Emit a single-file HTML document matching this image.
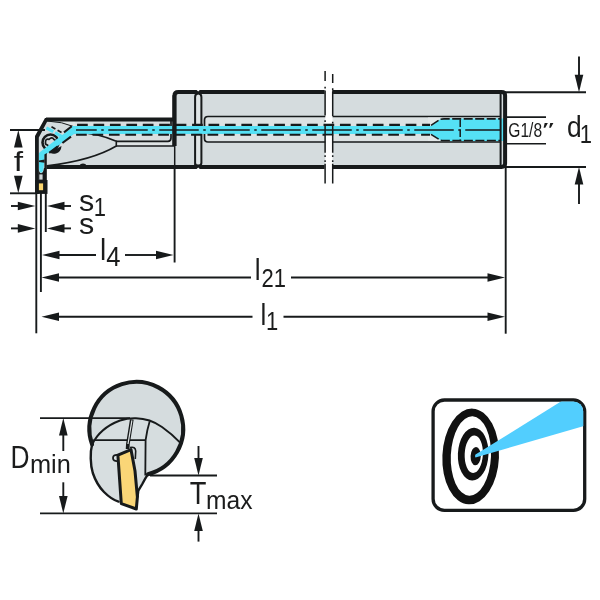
<!DOCTYPE html>
<html><head><meta charset="utf-8"><title>drawing</title>
<style>
html,body{margin:0;padding:0;background:#fff}
svg{display:block;will-change:transform}
text{font-family:"Liberation Sans",sans-serif;fill:#1b1c1c}
</style></head>
<body>
<svg width="600" height="600" viewBox="0 0 600 600">
<path d="M174 167 L174 96 Q174 92 178 92 L502 92 L505 95 L505 164 L502 167 Z" fill="#d5dcde"/>
<path d="M501 116.5 L208 116.5 Q204.5 116.5 204.5 120 L204.5 138.5 Q204.5 142 208 142 L501 142" fill="#dce2e3" stroke="#171a1b" stroke-width="1.7"/>
<rect x="195.5" y="94" width="5.6" height="72" fill="#dfe5e6"/>
<path d="M195.1 165 L195.1 97 Q195.1 93.5 198.2 93.5 Q201.4 93.5 201.4 97 L201.4 163 Q201.4 165.6 198.2 165.6 Q195.1 165.6 195.1 163" fill="none" stroke="#171a1b" stroke-width="2"/>
<path d="M174 119.4 L46.5 119.4 L36 137 L36 193 L47 193 L47 167 L174 167 Z" fill="#d5dcde"/>
<path d="M74 119 L174 119 L174 141.3 L116 141.3 Q98 133.5 76 132.5 Z" fill="#d8dee0"/>
<path d="M116 141.3 L174 141.3 L174 146 L116 146 Z" fill="#dfe4e5"/>
<path d="M47 120 Q62 121 75 127 L75 120 Z" fill="#dfe4e5"/>
<path d="M116 141.3 L168 141.3 Q171 141.3 171 138 L171 120" fill="none" stroke="#171a1b" stroke-width="1.7"/>
<path d="M116 146 L174 146" fill="none" stroke="#171a1b" stroke-width="1.7"/>
<path d="M76 132.3 Q99 133.5 116.3 141.3 L116.3 146 Q92 160.5 47 165.8" fill="none" stroke="#171a1b" stroke-width="1.6" stroke-linejoin="round"/>
<path d="M47 121 Q62 121.5 75 127" fill="none" stroke="#171a1b" stroke-width="1"/>
<ellipse cx="83" cy="165.3" rx="3" ry="1.7" fill="#171a1b"/>
<circle cx="50.5" cy="142.5" r="8" fill="#d5dcde" stroke="#171a1b" stroke-width="2.6"/>
<path d="M45.5 142.5 Q45.3 138.5 49 139.3 Q52 136.5 54 139.5 Q57 140.5 55 143.5 Q55.5 147 51.5 146 Q48.5 148.5 47.5 145 Q45 144.5 45.5 142.5 Z" fill="none" stroke="#171a1b" stroke-width="1.7"/>
<path d="M50 152.3 L61.5 146 Q61 152 56 153.5 Q52 154.5 50 152.3 Z" fill="#171a1b"/>
<path d="M501 129.9 L72 129.9" fill="none" stroke="#55e1f5" stroke-width="8"/>
<path d="M76 125.9 L74 125.9 L40 152 L38.8 153.5 L39 168 Q39.5 172.8 41.2 172.8 Q43.3 172.8 43.8 166 L44.6 155.8 L46 154.6 L74 133.9 L76 133.9 Z" fill="#55e1f5"/>
<path d="M62 136.6 L46 127.6" fill="none" stroke="#55e1f5" stroke-width="3.2" stroke-dasharray="8 2"/>
<path d="M428 117.4 L442 117.4 L432 125.5 L428 125.5 Z M428 141 L442 141 L432 134.3 L428 134.3 Z" fill="#e2e7e8"/>
<path d="M431 125.9 L440 119.6 Q441.5 118.5 444 118.5 L504 118.5 L504 140.9 L444 140.9 Q441.5 140.9 440 139.8 L431 133.9 Z" fill="#55e1f5"/>
<path d="M430 124.9 L73.5 124.9 L64 132.3" fill="none" stroke="#171a1b" stroke-width="2.1" stroke-dasharray="10.7 5.73" stroke-dashoffset="2.8"/>
<path d="M430 134.7 L73.5 134.7 L46.5 154.9" fill="none" stroke="#171a1b" stroke-width="2.1" stroke-dasharray="10.7 5.73" stroke-dashoffset="1.8"/>
<path d="M51.5 126.8 L63 133.3" fill="none" stroke="#171a1b" stroke-width="1.7" stroke-dasharray="4.5 2.5"/>
<path d="M44.4 154.5 L46.8 153 L46.8 181 L44.4 181 Z" fill="#171a1b"/>
<path d="M44.6 159.6 L39 160.6 L39 162 L44.6 162.8 Z" fill="#171a1b"/>
<path d="M431 125.3 L440 119.4 Q441.5 118.9 444 118.9 L501 118.9" fill="none" stroke="#171a1b" stroke-width="1.6" stroke-dasharray="9 2.5"/>
<path d="M431 134.4 L440 140 Q441.5 140.5 444 140.5 L501 140.5" fill="none" stroke="#171a1b" stroke-width="1.6" stroke-dasharray="9 2.5"/>
<path d="M460.2 119.5 L460.2 140" fill="none" stroke="#171a1b" stroke-width="1.5" stroke-dasharray="7.5 2.5"/>
<path d="M500 129.9 L76 129.9" fill="none" stroke="#171a1b" stroke-width="1.5" stroke-dasharray="39.5 4.5 2.5 4.5" stroke-dashoffset="4.75"/>
<rect x="325.3" y="86" width="7.2" height="37.2" fill="#fff"/>
<rect x="325.3" y="135.6" width="7.2" height="36" fill="#fff"/>
<path d="M325.1 71.0 L325.1 81.0 M325.1 86.8 L325.1 88.5 M325.1 90.5 L325.1 115.5 M325.1 120.3 L325.1 122.0 M325.1 124.0 L325.1 152.7 M325.1 155.3 L325.1 157.0 M325.1 160.3 L325.1 162.0 M325.1 163.8 L325.1 183.5" fill="none" stroke="#171a1b" stroke-width="1.5"/>
<path d="M332.7 74.0 L332.7 83.0 M332.7 88.3 L332.7 90.0 M332.7 91.5 L332.7 116.0 M332.7 121.8 L332.7 123.5 M332.7 124.5 L332.7 152.7 M332.7 155.3 L332.7 157.0 M332.7 160.3 L332.7 162.0 M332.7 163.8 L332.7 183.5" fill="none" stroke="#171a1b" stroke-width="1.5"/>
<path d="M46.5 166.9 L324.6 166.9 M332.2 166.9 L502 166.9" fill="none" stroke="#171a1b" stroke-width="4"/>
<path d="M174.4 96 Q174.4 92.1 178.4 92.1 L324.6 92.1 M332.2 92.1 L501.5 92.1 Q505.1 92.1 505.1 95.5 L505.1 163.5 Q505.1 166.9 501.5 166.9" fill="none" stroke="#171a1b" stroke-width="4"/>
<path d="M174.4 146 L174.4 95.5" fill="none" stroke="#171a1b" stroke-width="4.4"/>
<line x1="500.6" y1="93.0" x2="500.6" y2="166.0" stroke="#171a1b" stroke-width="2.00" />
<line x1="174.7" y1="140.0" x2="174.7" y2="167.0" stroke="#171a1b" stroke-width="1.50" />
<path d="M175 119.6 L46 119.6" fill="none" stroke="#171a1b" stroke-width="4"/>
<path d="M47.5 118 L45 118 L35 136 L35.1 193.9 L38.8 193.9 L38.8 137.5 L47.5 121 Z" fill="#171a1b"/>
<path d="M35.1 180 L35.1 193.9 L47.5 193.9 L47.5 180 Z" fill="#171a1b"/>
<rect x="38.9" y="183.4" width="4.2" height="6.8" fill="#fad56e"/>
<rect x="39.3" y="174.4" width="3.3" height="5.2" fill="#cfd6d8"/>
<path d="M38.5 169 Q39.3 173.2 41.2 173.2 Q43.3 173.2 44 168 L45 168 L45 181 L38.5 181 Z" fill="#171a1b"/>
<rect x="39.3" y="174.4" width="3.3" height="5.2" fill="#cfd6d8"/>
<path d="M196.6 89.9 L199.8 89.9 L198.2 91.6 Z M196.6 169.1 L199.8 169.1 L198.2 167.4 Z" fill="#fff"/>
<line x1="505.0" y1="92.2" x2="586.0" y2="92.2" stroke="#171a1b" stroke-width="1.90" />
<line x1="505.0" y1="167.0" x2="586.0" y2="167.0" stroke="#171a1b" stroke-width="1.90" />
<line x1="505.0" y1="117.1" x2="546.0" y2="117.1" stroke="#171a1b" stroke-width="1.60" />
<line x1="505.0" y1="143.8" x2="546.0" y2="143.8" stroke="#171a1b" stroke-width="1.60" />
<line x1="579.0" y1="56.5" x2="579.0" y2="80.0" stroke="#171a1b" stroke-width="1.90" />
<polygon points="579.0,92.2 574.7,74.7 583.3,74.7" fill="#171a1b"/>
<line x1="579.0" y1="180.0" x2="579.0" y2="204.0" stroke="#171a1b" stroke-width="1.90" />
<polygon points="579.0,167.0 574.7,184.5 583.3,184.5" fill="#171a1b"/>
<text transform="translate(567.0 137.0) scale(0.880 1)" font-size="30.0" text-anchor="start" >d</text>
<text transform="translate(579.8 142.8) scale(0.880 1)" font-size="25.0" text-anchor="start" >1</text>
<text transform="translate(508.3 137.2) scale(0.780 1)" font-size="20.0" text-anchor="start" >G1/8</text>
<text transform="translate(542.3 136.3) scale(1.750 1)" font-size="19.0" text-anchor="start" >″</text>
<line x1="10.0" y1="130.0" x2="45.0" y2="130.0" stroke="#171a1b" stroke-width="1.90" />
<line x1="10.0" y1="193.3" x2="36.0" y2="193.3" stroke="#171a1b" stroke-width="1.90" />
<polygon points="18.3,130.0 14.0,147.5 22.6,147.5" fill="#171a1b"/>
<polygon points="18.3,193.3 14.0,175.8 22.6,175.8" fill="#171a1b"/>
<text transform="translate(18.5 171.0) scale(1.200 1)" font-size="28.0" text-anchor="middle" >f</text>
<line x1="36.3" y1="193.0" x2="36.3" y2="333.3" stroke="#171a1b" stroke-width="1.90" />
<line x1="40.9" y1="193.0" x2="40.9" y2="292.0" stroke="#171a1b" stroke-width="1.90" />
<line x1="45.8" y1="193.0" x2="45.8" y2="232.0" stroke="#171a1b" stroke-width="1.90" />
<line x1="11.0" y1="206.0" x2="20.0" y2="206.0" stroke="#171a1b" stroke-width="1.90" />
<polygon points="35.3,206.0 17.8,201.7 17.8,210.3" fill="#171a1b"/>
<polygon points="47.0,206.0 64.5,201.7 64.5,210.3" fill="#171a1b"/>
<line x1="62.0" y1="206.0" x2="71.0" y2="206.0" stroke="#171a1b" stroke-width="1.90" />
<line x1="11.0" y1="228.4" x2="20.0" y2="228.4" stroke="#171a1b" stroke-width="1.90" />
<polygon points="35.3,228.4 17.8,224.1 17.8,232.7" fill="#171a1b"/>
<polygon points="47.0,228.4 64.5,224.1 64.5,232.7" fill="#171a1b"/>
<line x1="62.0" y1="228.4" x2="71.0" y2="228.4" stroke="#171a1b" stroke-width="1.90" />
<text transform="translate(79.0 210.6) scale(1.050 1)" font-size="29.0" text-anchor="start" >s</text>
<text transform="translate(93.8 215.5) scale(0.880 1)" font-size="25.0" text-anchor="start" >1</text>
<text transform="translate(79.0 234.3) scale(1.050 1)" font-size="29.0" text-anchor="start" >s</text>
<line x1="174.6" y1="167.0" x2="174.6" y2="262.5" stroke="#171a1b" stroke-width="1.90" />
<polygon points="42.0,255.0 59.5,250.7 59.5,259.3" fill="#171a1b"/>
<line x1="58.0" y1="255.0" x2="96.0" y2="255.0" stroke="#171a1b" stroke-width="1.90" />
<line x1="125.0" y1="255.0" x2="157.0" y2="255.0" stroke="#171a1b" stroke-width="1.90" />
<polygon points="173.5,255.0 156.0,250.7 156.0,259.3" fill="#171a1b"/>
<text transform="translate(99.9 260.0) scale(0.950 1)" font-size="29.5" text-anchor="start" >l</text>
<text transform="translate(106.3 266.0) scale(0.950 1)" font-size="27.0" text-anchor="start" >4</text>
<line x1="505.7" y1="167.0" x2="505.7" y2="333.7" stroke="#171a1b" stroke-width="1.90" />
<polygon points="41.5,277.5 59.0,273.2 59.0,281.8" fill="#171a1b"/>
<line x1="58.0" y1="277.5" x2="251.0" y2="277.5" stroke="#171a1b" stroke-width="1.90" />
<line x1="291.0" y1="277.5" x2="488.0" y2="277.5" stroke="#171a1b" stroke-width="1.90" />
<polygon points="505.0,277.5 487.5,273.2 487.5,281.8" fill="#171a1b"/>
<text transform="translate(254.8 280.0) scale(0.900 1)" font-size="29.0" text-anchor="start" >l</text>
<text transform="translate(261.5 286.5) scale(0.880 1)" font-size="25.0" text-anchor="start" >21</text>
<polygon points="41.5,316.7 59.0,312.4 59.0,321.0" fill="#171a1b"/>
<line x1="58.0" y1="316.7" x2="252.5" y2="316.7" stroke="#171a1b" stroke-width="1.90" />
<line x1="283.5" y1="316.7" x2="488.0" y2="316.7" stroke="#171a1b" stroke-width="1.90" />
<polygon points="505.0,316.7 487.5,312.4 487.5,321.0" fill="#171a1b"/>
<text transform="translate(260.4 324.5) scale(0.900 1)" font-size="29.0" text-anchor="start" >l</text>
<text transform="translate(266.0 330.3) scale(0.880 1)" font-size="25.0" text-anchor="start" >1</text>
<circle cx="136.3" cy="428.8" r="46.9" fill="#d5dcde"/>
<path d="M92.1 444.5 C90 452 90.3 465 92.8 473 C95.5 481 100 488 104 492 C108 496 113 500 118.5 501.6 L121 504 L136.5 510 L138.3 490.7 L142.3 484 Q145.5 478 148.0 474.2 A46.9 46.9 0 0 0 180.9 443.3 Q172 434 162 427 Q150 418.6 136 418.3 Q128 418 120 420.5 Q100 428 92.1 444.5 Z" fill="#d7dee0"/>
<path d="M149.7 421.3 Q147 430 145.6 440.1 L145.3 476 L148.0 474.2 A46.9 46.9 0 0 0 180.9 443.3 Q172 434 162 427 Q156 423 149.7 421.3 Z" fill="#d6dddf"/>
<path d="M180.9 443.3 Q172 434 162 427 Q150 418.6 136 418.3 Q128 418 120 420.5 Q100 428 92.1 444.5" fill="none" stroke="#171a1b" stroke-width="1.9"/>
<path d="M92.1 444.5 C90 452 90.3 465 92.8 473 C95.5 481 100 488 104 492 C108 496 113 500 118.5 501.6" fill="none" stroke="#171a1b" stroke-width="2.4" stroke-linecap="round"/>
<path d="M137.5 497 L138.3 490.7 L142.3 484 Q145.5 478 148.0 474.2" fill="none" stroke="#171a1b" stroke-width="2.4" stroke-linejoin="round"/>
<path d="M92.1 444.5 A46.9 46.9 0 1 1 148.0 474.2" fill="none" stroke="#171a1b" stroke-width="4" stroke-linecap="round"/>
<path d="M93.3 440.1 L145.6 440.1" fill="none" stroke="#171a1b" stroke-width="1.8"/>
<path d="M149.7 421.3 Q147 430 145.6 440.1 L145.3 475.5" fill="none" stroke="#171a1b" stroke-width="1.8"/>
<path d="M131.8 419.5 L127.9 444 L127.6 449" fill="none" stroke="#171a1b" stroke-width="3.7" stroke-linejoin="round"/>
<path d="M131.9 420.3 L128 444" fill="none" stroke="#dfe4e5" stroke-width="1.2"/>
<path d="M117.6 455 Q113 454.6 113 458 Q113 461.4 117.8 461" fill="none" stroke="#171a1b" stroke-width="1.8"/>
<path d="M130 447.6 Q135.4 446.3 135.7 451 L135.3 459" fill="none" stroke="#171a1b" stroke-width="1.6"/>
<path d="M117.9 455.2 L131 449.6 L135 471 L137.4 497 L136.3 509 L121.3 503.6 Z" fill="#fad677" stroke="#171a1b" stroke-width="3" stroke-linejoin="round"/>
<line x1="40.0" y1="418.1" x2="130.0" y2="418.1" stroke="#171a1b" stroke-width="1.90" />
<line x1="40.0" y1="513.4" x2="217.0" y2="513.4" stroke="#171a1b" stroke-width="1.90" />
<line x1="150.0" y1="475.5" x2="217.0" y2="475.5" stroke="#171a1b" stroke-width="1.90" />
<polygon points="63.3,418.1 59.0,435.6 67.6,435.6" fill="#171a1b"/>
<line x1="63.3" y1="430.0" x2="63.3" y2="451.0" stroke="#171a1b" stroke-width="1.90" />
<line x1="63.3" y1="482.3" x2="63.3" y2="500.0" stroke="#171a1b" stroke-width="1.90" />
<polygon points="63.3,513.4 59.0,495.9 67.6,495.9" fill="#171a1b"/>
<text transform="translate(10.5 467.5) scale(0.850 1)" font-size="31.0" text-anchor="start" >D</text>
<text transform="translate(30.0 472.5) scale(1.015 1)" font-size="25.0" text-anchor="start" >min</text>
<line x1="198.5" y1="446.0" x2="198.5" y2="460.0" stroke="#171a1b" stroke-width="1.90" />
<polygon points="198.5,475.5 194.2,458.0 202.8,458.0" fill="#171a1b"/>
<polygon points="198.5,513.4 194.2,530.9 202.8,530.9" fill="#171a1b"/>
<line x1="198.5" y1="528.0" x2="198.5" y2="541.6" stroke="#171a1b" stroke-width="1.90" />
<text transform="translate(189.8 503.7) scale(0.880 1)" font-size="31.0" text-anchor="start" >T</text>
<text transform="translate(206.0 509.0) scale(0.930 1)" font-size="26.5" text-anchor="start" >max</text>
<rect x="433.1" y="400" width="151.6" height="110.3" rx="11.3" ry="11.3" fill="#fff" stroke="#171a1b" stroke-width="3.3"/>
<clipPath id="cp"><rect x="434.5" y="401.4" width="148.8" height="107.5" rx="10" ry="10"/></clipPath>
<g transform="rotate(2.5 471 456)">
<ellipse cx="470.7" cy="456.5" rx="28.3" ry="47.9" fill="#111"/>
<ellipse cx="470.9" cy="456" rx="20.1" ry="39.7" fill="#fff"/>
<ellipse cx="473.1" cy="454.1" rx="15.3" ry="26.4" fill="#111"/>
<ellipse cx="473.7" cy="454.1" rx="9.1" ry="18.7" fill="#fff"/>
<ellipse cx="475.7" cy="456" rx="5.1" ry="9.1" fill="#111"/>
</g>
<path d="M475.5 454.6 Q474.6 456 475.5 457.4 L590 424.2 L590 400 L563.3 400 Z" fill="#52cefe" clip-path="url(#cp)"/>
</svg>
</body></html>
